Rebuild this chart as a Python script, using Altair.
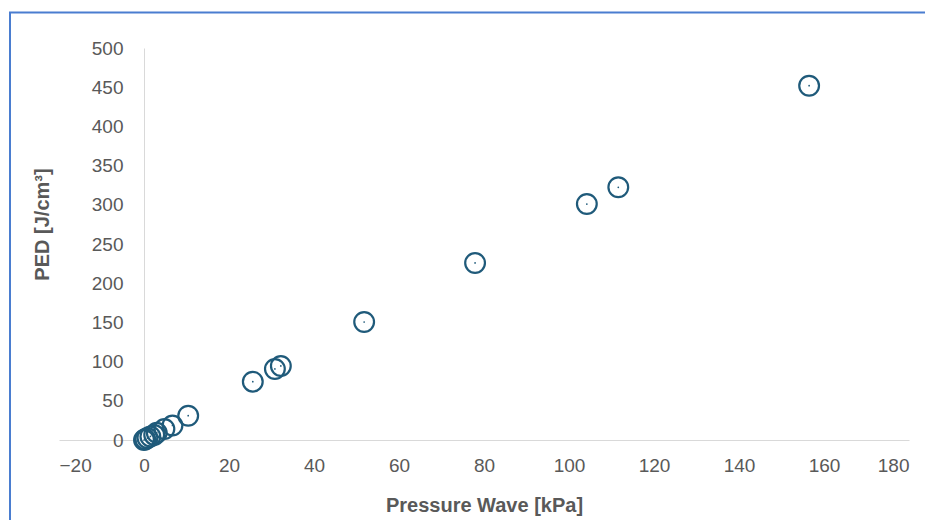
import altair as alt
import pandas as pd

pressure_kpa = [0.0, 0.3, 0.8, 1.5, 2.4, 3.0, 4.8, 6.7, 10.4, 25.6, 30.8, 32.2, 51.8, 77.9, 104.2, 111.6, 156.5]
ped_jcm3 = [0.0, 1.0, 2.5, 4.5, 6.5, 9.3, 14.0, 18.5, 31.0, 74.4, 90.6, 94.4, 150.5, 225.8, 301.0, 322.3, 451.9]
x_ticks = [-20, 0, 20, 40, 60, 80, 100, 120, 140, 160, 180]
y_ticks = [0, 50, 100, 150, 200, 250, 300, 350, 400, 450, 500]

df = pd.DataFrame({"x": pressure_kpa, "y": ped_jcm3})

W, H = 850, 392
color = "#1f5a7a"
font = "Liberation Sans"

xs = alt.X("x:Q", scale=alt.Scale(domain=[-20, 180], nice=False, zero=False),
           axis=alt.Axis(values=x_ticks, tickCount=11, title="Pressure Wave [kPa]",
                         grid=False, ticks=False, domainColor="#d9d9d9", domainWidth=1,
                         labelOverlap=False,
                         labelFontSize=19, labelColor="#595959", labelFont=font, labelPadding=16,
                         titleFontSize=20, titleFont=font, titleColor="#595959", titleFontWeight="bold",
                         titleY=65, titleBaseline="middle"))
ys = alt.Y("y:Q", scale=alt.Scale(domain=[0, 500], nice=False),
           axis=alt.Axis(values=y_ticks, tickCount=11, title="PED [J/cm³]", offset=-85,
                         grid=False, ticks=False, domainColor="#d9d9d9", domainWidth=1,
                         labelOverlap=False,
                         labelFontSize=19, labelColor="#595959", labelFont=font, labelPadding=21,
                         titleFontSize=20, titleFont=font, titleColor="#595959", titleFontWeight="bold",
                         titleX=-102, titleY=176, titleAngle=270, titleAlign="center",
                         titleBaseline="middle"))

base = alt.Chart(df).encode(x=xs, y=ys)
circles = base.mark_point(shape="circle", filled=False, size=390, strokeWidth=2.2, color=color, opacity=1)
dots = base.mark_point(shape="circle", filled=True, size=3, color=color, opacity=1)

frame = alt.Chart(pd.DataFrame({"a": [0]})).mark_rect(fillOpacity=0, stroke="#4a7dd0", strokeWidth=2).encode(
    x=alt.value(-49), x2=alt.value(1000), y=alt.value(-35.5), y2=alt.value(700))

chart = alt.layer(frame, circles, dots).properties(
    width=W, height=H,
    autosize=alt.AutoSizeParams(type="none"),
    padding={"left": 51, "top": 40, "right": 16, "bottom": 80},
).configure(background="white").configure_view(stroke=None, strokeWidth=0)

chart.save("out.html", embed_options={"renderer": "svg", "actions": False})
